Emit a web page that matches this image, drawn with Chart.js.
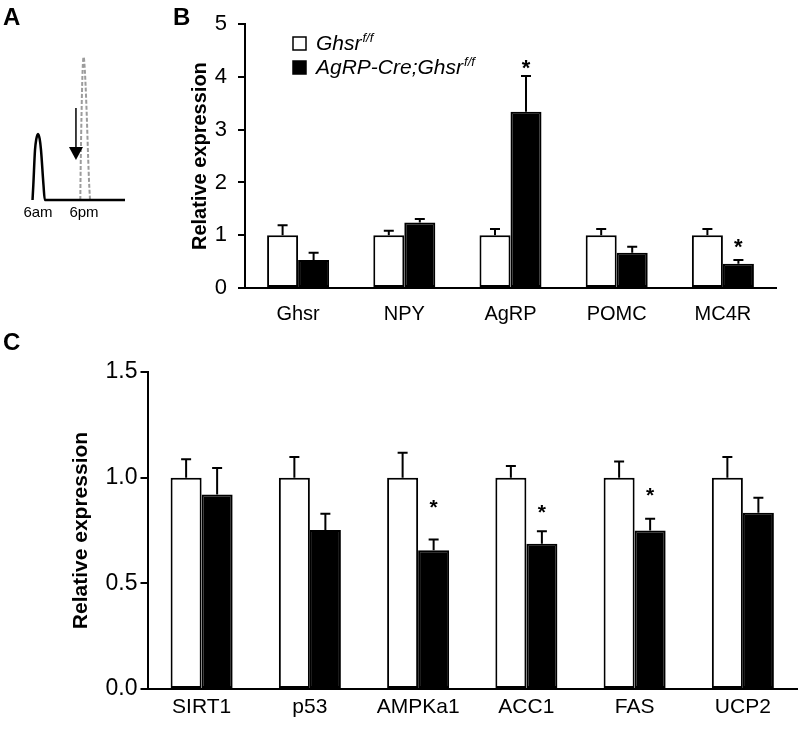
<!DOCTYPE html>
<html>
<head>
<meta charset="utf-8">
<script src="https://cdn.jsdelivr.net/npm/chart.js@4.4.1/dist/chart.umd.min.js"></script>
<style>
  body { margin: 0; background: #fff; }
  #wrap { position: relative; width: 800px; height: 729px; overflow: hidden; font-family: "Liberation Sans", Arial, sans-serif; }
  canvas { position: absolute; }
  .panel { position: absolute; font-weight: bold; font-size: 24px; line-height: 24px; }
</style>
</head>
<body>
<div id="wrap">
  <canvas id="chartA" width="170" height="260" style="left:0px;top:0px"></canvas>
  <canvas id="chartB" width="650" height="340" style="left:150px;top:0px"></canvas>
  <canvas id="chartC" width="800" height="399" style="left:0px;top:330px"></canvas>
  <div class="panel" style="left:3px;top:5px">A</div>
  <div class="panel" style="left:173px;top:5px">B</div>
  <div class="panel" style="left:3px;top:330px">C</div>
</div>
<script>
// Panel A - schematic peaks (x in hours of the day, y relative height)
const amPeakX = [4.57, 4.78, 5.22, 5.56, 6.0, 6.44, 6.78, 7.43, 7.77, 28.7];
const amPeakY = [0, 0.105, 0.35, 0.427, 0.462, 0.427, 0.35, 0.105, 0, 0];
const pmPeakX = [17.04, 17.09, 17.43, 17.64, 17.9, 18.21, 18.57, 19.3, 19.57];
const pmPeakY = [0, 0.14, 0.70, 0.91, 1.0, 0.91, 0.70, 0.14, 0];
const timeLabels = ['6am', '6pm'];
const timeAt = [6, 18];

// Panel B
const genesB = ['Ghsr', 'NPY', 'AgRP', 'POMC', 'MC4R'];
const ctrlB = [1, 1, 1, 1, 1];
const ctrlErrB = [0.19, 0.085, 0.12, 0.12, 0.12];
const koB = [0.53, 1.24, 3.34, 0.67, 0.46];
const koErrB = [0.14, 0.07, 0.68, 0.11, 0.07];
const starsB = [null, null, 4.27, null, 0.88];
const ticksB = [0, 1, 2, 3, 4, 5];

// Panel C
const genesC = ['SIRT1', 'p53', 'AMPKa1', 'ACC1', 'FAS', 'UCP2'];
const ctrlC = [1, 1, 1, 1, 1, 1];
const ctrlErrC = [0.087, 0.098, 0.118, 0.055, 0.076, 0.098];
const koC = [0.92, 0.752, 0.656, 0.687, 0.75, 0.834];
const koErrC = [0.126, 0.077, 0.052, 0.06, 0.056, 0.071];
const starsC = [null, null, 0.883, 0.86, 0.94, null];
const ticksC = [0, 0.5, 1.0, 1.5];

const seriesNames = ['Ghsr', 'AgRP-Cre;Ghsr'];
const seriesSup = 'f/f';

Chart.defaults.font.family = '"Liberation Sans", Arial, sans-serif';
Chart.defaults.color = '#000';

// error bars (upper half only) + significance stars
const extras = {
  id: 'extras',
  afterDatasetsDraw(chart, args, opts) {
    const ctx = chart.ctx, y = chart.scales.y;
    ctx.save();
    ctx.strokeStyle = '#000';
    ctx.lineWidth = 2;
    opts.err.forEach((errs, di) => {
      const meta = chart.getDatasetMeta(di);
      meta.data.forEach((bar, i) => {
        const v = chart.data.datasets[di].data[i];
        const top = y.getPixelForValue(v + errs[i]);
        ctx.beginPath();
        ctx.moveTo(bar.x, bar.y);
        ctx.lineTo(bar.x, top);
        ctx.moveTo(bar.x - 5, top);
        ctx.lineTo(bar.x + 5, top);
        ctx.stroke();
      });
    });
    const meta = chart.getDatasetMeta(1);
    ctx.fillStyle = '#000';
    ctx.textAlign = 'center';
    ctx.font = 'bold ' + opts.starSize + 'px "Liberation Sans", Arial';
    opts.stars.forEach((s, i) => {
      if (s == null) return;
      ctx.fillText('*', meta.data[i].x, y.getPixelForValue(s) + 0.55 * opts.starSize);
    });
    ctx.restore();
  }
};

// legend with superscript
const keyBox = {
  id: 'keyBox',
  afterDraw(chart, args, opts) {
    const ctx = chart.ctx;
    ctx.save();
    chart.data.datasets.forEach((ds, i) => {
      const top = opts.y + i * opts.gap;
      ctx.fillStyle = ds.backgroundColor;
      ctx.strokeStyle = '#000';
      ctx.lineWidth = 1.5;
      ctx.fillRect(opts.x, top, opts.box, opts.box);
      ctx.strokeRect(opts.x, top, opts.box, opts.box);
      ctx.fillStyle = '#000';
      ctx.font = 'italic 21px "Liberation Sans", Arial';
      const tx = opts.x + opts.box + 10, base = top + opts.box;
      ctx.fillText(ds.label, tx, base);
      const w = ctx.measureText(ds.label).width;
      ctx.font = 'italic 13px "Liberation Sans", Arial';
      ctx.fillText(seriesSup, tx + w + 1, base - 8);
    });
    ctx.restore();
  }
};

// arrow and time labels for the schematic
const schematic = {
  id: 'schematic',
  afterDatasetsDraw(chart, args, opts) {
    const ctx = chart.ctx, x = chart.scales.x, y = chart.scales.y;
    const ax = x.getPixelForValue(opts.arrowAt);
    const y0 = y.getPixelForValue(opts.arrowFrom), y1 = y.getPixelForValue(opts.arrowTo);
    ctx.save();
    ctx.strokeStyle = '#000';
    ctx.fillStyle = '#000';
    ctx.lineWidth = 1.5;
    ctx.beginPath();
    ctx.moveTo(ax, y0);
    ctx.lineTo(ax, y1 - 10);
    ctx.stroke();
    ctx.beginPath();
    ctx.moveTo(ax - 7, y1 - 13);
    ctx.lineTo(ax + 7, y1 - 13);
    ctx.lineTo(ax, y1);
    ctx.closePath();
    ctx.fill();
    ctx.font = '15px "Liberation Sans", Arial';
    ctx.textAlign = 'center';
    ctx.textBaseline = 'top';
    timeLabels.forEach((t, i) => ctx.fillText(t, x.getPixelForValue(timeAt[i]), y.getPixelForValue(0) + 5));
    ctx.restore();
  }
};

new Chart(document.getElementById('chartA'), {
  type: 'line',
  data: {
    datasets: [{
      data: amPeakX.map((v, i) => ({x: v, y: amPeakY[i]})),
      borderColor: '#000',
      borderWidth: 2.5,
      pointRadius: 0,
      cubicInterpolationMode: 'monotone',
      clip: false
    }, {
      data: pmPeakX.map((v, i) => ({x: v, y: pmPeakY[i]})),
      borderColor: '#9c9c9c',
      borderWidth: 2,
      borderDash: [4, 2],
      pointRadius: 0,
      cubicInterpolationMode: 'monotone',
      clip: false
    }]
  },
  options: {
    responsive: false,
    animation: false,
    layout: {padding: {left: 15, right: 40, top: 57, bottom: 60}},
    scales: {
      x: {type: 'linear', display: false, min: 0, max: 30},
      y: {display: false, min: 0, max: 1}
    },
    plugins: {
      legend: {display: false},
      tooltip: {enabled: false},
      schematic: {arrowAt: 15.9, arrowFrom: 0.643, arrowTo: 0.28}
    }
  },
  plugins: [schematic]
});

new Chart(document.getElementById('chartB'), {
  type: 'bar',
  data: {
    labels: genesB,
    datasets: [
      {label: seriesNames[0], data: ctrlB, backgroundColor: '#fff', borderColor: '#000', borderWidth: 2, borderSkipped: false},
      {label: seriesNames[1], data: koB, backgroundColor: '#000', borderColor: '#000', borderWidth: 2, borderSkipped: false}
    ]
  },
  options: {
    responsive: false,
    animation: false,
    layout: {padding: {left: 0, right: 24, top: 16, bottom: 0}},
    datasets: {bar: {barPercentage: 1, categoryPercentage: 0.584}},
    scales: {
      x: {
        grid: {display: false, drawTicks: false},
        border: {color: '#000', width: 2},
        ticks: {font: {size: 20}, padding: 14},
        afterFit: s => { s.height = 52; }
      },
      y: {
        min: 0, max: 5,
        afterBuildTicks: s => { s.ticks = ticksB.map(v => ({value: v})); },
        grid: {drawOnChartArea: false, color: '#000', lineWidth: 2, tickLength: 7},
        border: {color: '#000', width: 2},
        ticks: {font: {size: 22}, padding: 11},
        title: {display: true, text: 'Relative expression', font: {size: 20, weight: 'bold'}, padding: {top: 38, bottom: 0}},
        afterFit: s => { s.width = 95; }
      }
    },
    plugins: {
      legend: {display: false},
      tooltip: {enabled: false},
      extras: {err: [ctrlErrB, koErrB], stars: starsB, starSize: 22},
      keyBox: {x: 143, y: 37, box: 13, gap: 24}
    }
  },
  plugins: [extras, keyBox]
});

new Chart(document.getElementById('chartC'), {
  type: 'bar',
  data: {
    labels: genesC,
    datasets: [
      {label: seriesNames[0], data: ctrlC, backgroundColor: '#fff', borderColor: '#000', borderWidth: 2, borderSkipped: false},
      {label: seriesNames[1], data: koC, backgroundColor: '#000', borderColor: '#000', borderWidth: 2, borderSkipped: false}
    ]
  },
  options: {
    responsive: false,
    animation: false,
    layout: {padding: {left: 0, right: 3, top: 42, bottom: 0}},
    datasets: {bar: {barPercentage: 1, categoryPercentage: 0.573}},
    scales: {
      x: {
        grid: {display: false, drawTicks: false},
        border: {color: '#000', width: 2},
        ticks: {font: {size: 21}, padding: 6},
        afterFit: s => { s.height = 40; }
      },
      y: {
        min: 0, max: 1.5,
        afterBuildTicks: s => { s.ticks = ticksC.map(v => ({value: v})); },
        grid: {drawOnChartArea: false, color: '#000', lineWidth: 2, tickLength: 7},
        border: {color: '#000', width: 2},
        ticks: {font: {size: 23}, padding: 3, callback: v => v.toFixed(1)},
        title: {display: true, text: 'Relative expression', font: {size: 21, weight: 'bold'}, padding: {top: 69, bottom: 0}},
        afterFit: s => { s.width = 147.5; }
      }
    },
    plugins: {
      legend: {display: false},
      tooltip: {enabled: false},
      extras: {err: [ctrlErrC, koErrC], stars: starsC, starSize: 21}
    }
  },
  plugins: [extras]
});
</script>
</body>
</html>
